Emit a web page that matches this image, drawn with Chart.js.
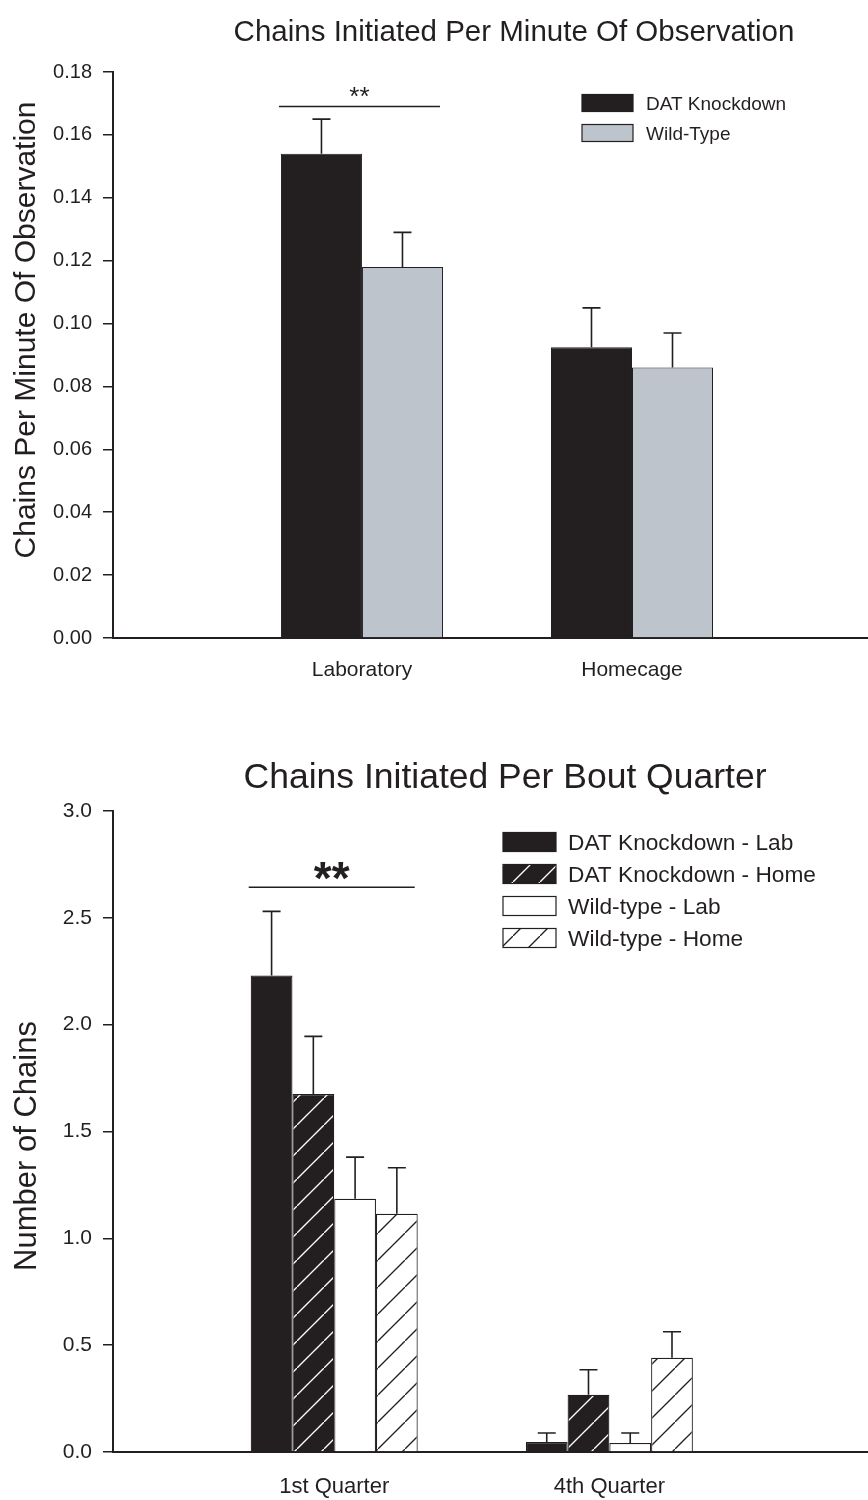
<!DOCTYPE html>
<html>
<head>
<meta charset="utf-8">
<title>Chains Initiated</title>
<script src="https://cdn.jsdelivr.net/npm/chart.js@4.4.1/dist/chart.umd.min.js"></script>
<style>
  html, body { margin: 0; padding: 0; background: #fff; }
  #page { position: relative; width: 868px; height: 1500px; }
  canvas { position: absolute; left: 0; }
  #topChart { top: 0; }
  #bottomChart { top: 720px; }
</style>
</head>
<body>
<div id="page">
  <canvas id="topChart" width="868" height="720"></canvas>
  <canvas id="bottomChart" width="868" height="780"></canvas>
</div>
<script>
// top panel: chains per minute of observation
const envCategories = ['Laboratory', 'Homecage'];
const datKnockdown = [0.154, 0.0925];
const datKnockdownErr = [0.011, 0.0125];
const wildType = [0.118, 0.086];
const wildTypeErr = [0.011, 0.011];
const topYTicks = [0, 0.02, 0.04, 0.06, 0.08, 0.10, 0.12, 0.14, 0.16, 0.18];
const topSigLevel = 0.169;

// bottom panel: chains per bout quarter
const quarterCategories = ['1st Quarter', '4th Quarter'];
const datLab = [2.23, 0.047];
const datLabErr = [0.30, 0.042];
const datHome = [1.675, 0.268];
const datHomeErr = [0.27, 0.117];
const wtLab = [1.185, 0.042];
const wtLabErr = [0.195, 0.047];
const wtHome = [1.115, 0.441];
const wtHomeErr = [0.215, 0.122];
const bottomYTicks = [0, 0.5, 1.0, 1.5, 2.0, 2.5, 3.0];
const bottomSigLevel = 2.643;

const ink = '#231f20';
const grey = '#bec4cb';
const fontFamily = "'Liberation Sans', Arial, Helvetica, sans-serif";

document.addEventListener('DOMContentLoaded', function () {

    function hatch(bg, fg) {
        const size = 27;
        const c = document.createElement('canvas');
        c.width = size; c.height = size;
        const g = c.getContext('2d');
        g.fillStyle = bg;
        g.fillRect(0, 0, size, size);
        g.strokeStyle = fg;
        g.lineWidth = 1.3;
        g.beginPath();
        g.moveTo(-2, size + 2);
        g.lineTo(size + 2, -2);
        g.stroke();
        return g.createPattern(c, 'repeat');
    }

    function toPoints(values) {
        return values.map((v, i) => ({ x: i + 1, y: v }));
    }

    // titles, legend, error bars and the significance bracket
    const panelDecor = {
        id: 'panelDecor',
        afterDatasetsDraw(chart, args, o) {
            const ctx = chart.ctx;
            const y = chart.scales.y;
            ctx.save();
            ctx.strokeStyle = ink;
            ctx.lineWidth = 1.6;
            chart.data.datasets.forEach((ds, i) => {
                chart.getDatasetMeta(i).data.forEach((bar, j) => {
                    const top = y.getPixelForValue(ds.data[j].y + ds.errorBars[j]);
                    ctx.beginPath();
                    ctx.moveTo(bar.x, bar.y);
                    ctx.lineTo(bar.x, top);
                    ctx.moveTo(bar.x - o.capHalf, top);
                    ctx.lineTo(bar.x + o.capHalf, top);
                    ctx.stroke();
                });
            });
            ctx.restore();
        },
        afterDraw(chart, args, o) {
            const ctx = chart.ctx;
            ctx.save();
            ctx.fillStyle = ink;
            ctx.textBaseline = 'alphabetic';

            // chart title
            ctx.font = o.titleSize + 'px ' + fontFamily;
            ctx.textAlign = 'center';
            ctx.fillText(o.title, o.titleX, o.titleY + 0.358 * o.titleSize);

            // y axis title
            ctx.save();
            ctx.translate(o.yTitleX, o.yTitleY);
            ctx.rotate(-Math.PI / 2);
            ctx.font = o.yTitleSize + 'px ' + fontFamily;
            ctx.fillText(o.yTitle, 0, 0.358 * o.yTitleSize);
            ctx.restore();

            // legend
            ctx.font = o.legendSize + 'px ' + fontFamily;
            ctx.textAlign = 'left';
            chart.data.datasets.forEach((ds, i) => {
                const cy = o.legendY + i * o.legendStep;
                ctx.fillStyle = ds.backgroundColor;
                ctx.fillRect(o.legendX, cy - o.boxH / 2, o.boxW, o.boxH);
                ctx.strokeStyle = ink;
                ctx.lineWidth = 1.2;
                ctx.strokeRect(o.legendX, cy - o.boxH / 2, o.boxW, o.boxH);
                ctx.fillStyle = ink;
                ctx.fillText(ds.label, o.legendTextX, cy + 0.358 * o.legendSize);
            });

            // significance bracket over the first group
            const first = chart.getDatasetMeta(0).data[0];
            const last = chart.getDatasetMeta(chart.data.datasets.length - 1).data[0];
            const x0 = first.x - first.width / 2 - 2;
            const x1 = last.x + last.width / 2 - 3;
            const ly = chart.scales.y.getPixelForValue(o.sigValue);
            ctx.strokeStyle = ink;
            ctx.lineWidth = 1.5;
            ctx.beginPath();
            ctx.moveTo(x0, ly);
            ctx.lineTo(x1, ly);
            ctx.stroke();
            ctx.font = o.sigWeight + ' ' + o.sigSize + 'px ' + fontFamily;
            ctx.textAlign = 'center';
            const m = ctx.measureText('**');
            ctx.fillText('**', (x0 + x1) / 2, ly - o.sigGap - m.actualBoundingBoxDescent);
            ctx.restore();
        }
    };

    function axes(cfg) {
        return {
            x: {
                type: 'linear',
                min: cfg.xMin,
                max: cfg.xMax,
                offset: false,
                z: 1,
                afterBuildTicks: s => { s.ticks = cfg.categories.map((c, i) => ({ value: i + 1 })); },
                ticks: {
                    callback: v => cfg.categories[v - 1],
                    font: { family: fontFamily, size: cfg.xFont },
                    color: ink,
                    padding: cfg.xPad,
                    maxRotation: 0,
                    autoSkip: false
                },
                grid: { display: false, drawTicks: false },
                border: { color: ink, width: 2 },
                afterFit: s => { s.height = cfg.xHeight; }
            },
            y: {
                min: cfg.yTicks[0],
                max: cfg.yTicks[cfg.yTicks.length - 1],
                afterBuildTicks: s => { s.ticks = cfg.yTicks.map(v => ({ value: v })); },
                ticks: {
                    callback: v => v.toFixed(cfg.decimals),
                    font: { family: fontFamily, size: cfg.yFont },
                    color: ink,
                    padding: 11
                },
                grid: { drawOnChartArea: false, drawTicks: true, tickLength: 10, color: ink, lineWidth: 1.5 },
                border: { color: ink, width: 2 },
                afterFit: s => { s.width = 113; }
            }
        };
    }

    new Chart(document.getElementById('topChart'), {
        type: 'bar',
        data: {
            datasets: [
                { label: 'DAT Knockdown', data: toPoints(datKnockdown), errorBars: datKnockdownErr,
                  backgroundColor: ink, borderColor: ink, borderWidth: 1 },
                { label: 'Wild-Type', data: toPoints(wildType), errorBars: wildTypeErr,
                  backgroundColor: grey, borderColor: ink, borderWidth: 1 }
            ]
        },
        options: {
            responsive: false,
            animation: false,
            categoryPercentage: 0.6,
            barPercentage: 1.0,
            layout: { padding: { top: 72, left: 0, right: 0, bottom: 0 } },
            scales: axes({
                categories: envCategories, xMin: 0.078, xMax: 2.874,
                xFont: 21, xPad: 20, xHeight: 82,
                yTicks: topYTicks, decimals: 2, yFont: 20
            }),
            plugins: {
                legend: { display: false },
                tooltip: { enabled: false },
                panelDecor: {
                    title: 'Chains Initiated Per Minute Of Observation', titleX: 514, titleY: 30, titleSize: 29.5,
                    yTitle: 'Chains Per Minute Of Observation', yTitleX: 24, yTitleY: 330, yTitleSize: 30,
                    legendX: 582, legendY: 103, legendStep: 30, boxW: 51, boxH: 17, legendTextX: 646, legendSize: 19,
                    sigValue: topSigLevel, sigSize: 26, sigWeight: 'normal', sigGap: 10,
                    capHalf: 9
                }
            }
        },
        plugins: [panelDecor]
    });

    new Chart(document.getElementById('bottomChart'), {
        type: 'bar',
        data: {
            datasets: [
                { label: 'DAT Knockdown - Lab', data: toPoints(datLab), errorBars: datLabErr,
                  backgroundColor: ink, borderColor: ink, borderWidth: 1.2 },
                { label: 'DAT Knockdown - Home', data: toPoints(datHome), errorBars: datHomeErr,
                  backgroundColor: hatch(ink, '#ffffff'), borderColor: ink, borderWidth: 1.2 },
                { label: 'Wild-type - Lab', data: toPoints(wtLab), errorBars: wtLabErr,
                  backgroundColor: '#ffffff', borderColor: ink, borderWidth: 1.2 },
                { label: 'Wild-type - Home', data: toPoints(wtHome), errorBars: wtHomeErr,
                  backgroundColor: hatch('#ffffff', ink), borderColor: ink, borderWidth: 1.2 }
            ]
        },
        options: {
            responsive: false,
            animation: false,
            categoryPercentage: 0.607,
            barPercentage: 1.0,
            layout: { padding: { top: 91, left: 0, right: 0, bottom: 0 } },
            scales: axes({
                categories: quarterCategories, xMin: 0.196, xMax: 2.94,
                xFont: 22, xPad: 22, xHeight: 48,
                yTicks: bottomYTicks, decimals: 1, yFont: 21
            }),
            plugins: {
                legend: { display: false },
                tooltip: { enabled: false },
                panelDecor: {
                    title: 'Chains Initiated Per Bout Quarter', titleX: 505, titleY: 55, titleSize: 35.5,
                    yTitle: 'Number of Chains', yTitleX: 25, yTitleY: 426, yTitleSize: 31,
                    legendX: 503, legendY: 122, legendStep: 32, boxW: 53, boxH: 19, legendTextX: 568, legendSize: 22.7,
                    sigValue: bottomSigLevel, sigSize: 46, sigWeight: 'bold', sigGap: 7,
                    capHalf: 9
                }
            }
        },
        plugins: [panelDecor]
    });
});
</script>
</body>
</html>
